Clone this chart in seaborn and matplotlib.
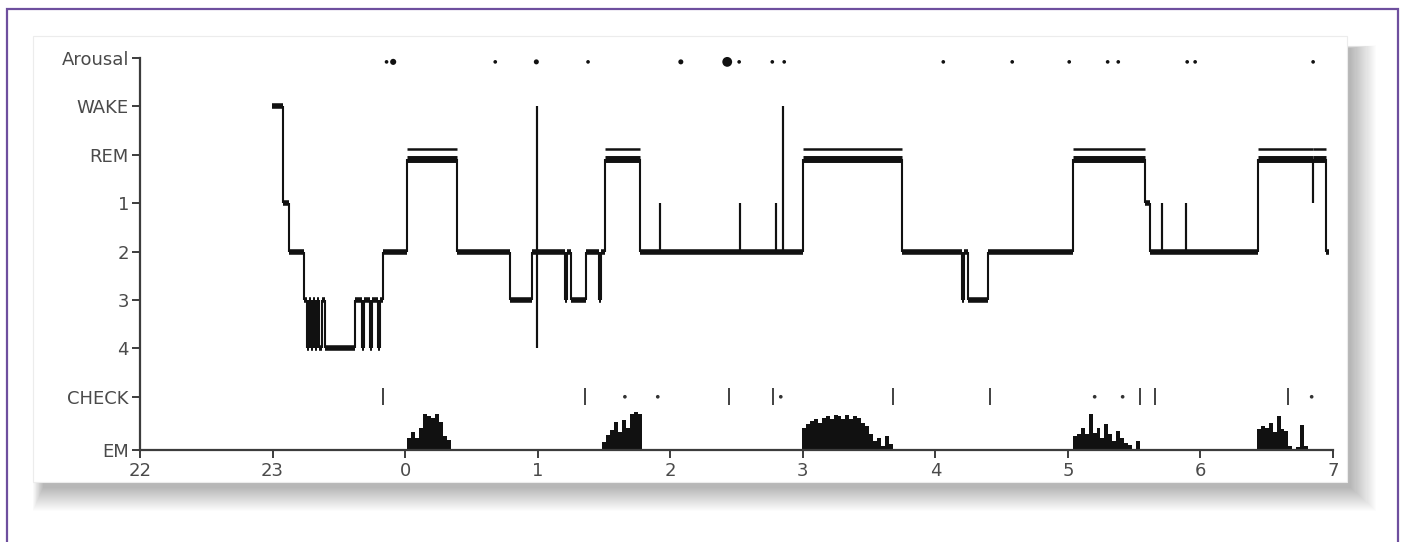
import matplotlib
matplotlib.use('Agg')
import numpy as np
import matplotlib.pyplot as plt
from matplotlib.patches import Rectangle
import seaborn as sns

# row labels (bottom -> top) and hour labels on the x axis
rows = ['EM', 'CHECK', '4', '3', '2', '1', 'REM', 'WAKE', 'Arousal']
hour_labels = ['22', '23', '0', '1', '2', '3', '4', '5', '6', '7']

# hypnogram change points, hours after 22:00, and the stage entered
stage_t = [0.995, 1.078, 1.124, 1.237, 1.259, 1.275, 1.290, 1.305, 1.320, 1.335,
           1.350, 1.373, 1.395, 1.621, 1.674, 1.689, 1.735, 1.750, 1.795, 1.810,
           1.833, 2.014, 2.391, 2.790, 2.956, 2.994, 2.994, 2.994, 3.205, 3.220,
           3.250, 3.363, 3.462, 3.477, 3.507, 3.771, 3.922, 3.922, 4.525, 4.525,
           4.796, 4.796, 4.849, 4.849, 5.000, 5.747, 6.199, 6.214, 6.244, 6.395,
           7.036, 7.579, 7.617, 7.707, 7.707, 7.888, 7.888, 8.431, 8.846, 8.846,
           8.944]
stage = ['WAKE', '1', '2', '3', '4', '3', '4', '3', '4', '3',
         '4', '3', '4', '3', '4', '3', '4', '3', '4', '3',
         '2', 'REM', '2', '3', '2', 'WAKE', '4', '2', '3', '2',
         '3', '2', '3', '2', 'REM', '2', '1', '2', '1', '2',
         '1', '2', 'WAKE', '2', 'REM', '2', '3', '2', '3', '2',
         'REM', '1', '2', '1', '2', '1', '2', 'REM', '1', 'REM',
         '2']
rec_end = 8.967

# arousals (time, duration in s)
arousal_t = [1.86, 1.91, 2.68, 2.99, 3.38, 4.08, 4.43, 4.52, 4.77, 4.86,
             6.06, 6.58, 7.01, 7.30, 7.38, 7.90, 7.96, 8.85]
arousal_sec = [10, 20, 10, 15, 10, 15, 45, 10, 10, 10,
               10, 10, 10, 10, 10, 10, 10, 10]

# check marks: long ticks and short dots
check_t = [1.833, 3.356, 4.442, 4.774, 5.679, 6.410, 7.541, 7.655, 8.658]
check_dot_t = [3.658, 3.906, 4.834, 7.202, 7.413, 8.839]

# eye movement bursts: start time and amplitude per 0.03 h bin
em_start = [2.014, 3.484, 4.992, 7.036, 8.424]
em_1 = [12, 18, 12, 22, 36, 34, 32, 36, 28, 14, 10]
em_2 = [8, 15, 20, 28, 18, 30, 22, 36, 38, 36]
em_3 = [22, 26, 29, 31, 27, 32, 34, 31, 35, 34, 31, 35, 31, 34, 32, 27,
        24, 16, 9, 12, 4, 14, 6]
em_4 = [14, 16, 22, 16, 36, 17, 22, 12, 26, 16, 9, 19, 12, 7, 5, 0, 9]
em_5 = [21, 24, 22, 27, 18, 34, 21, 19, 4, 0, 3, 25, 4]
em_bin = 0.03

sns.set_theme(style='white')
plt.rcParams['font.family'] = ['DejaVu Sans']

W, H = 1405, 542
fig = plt.figure(figsize=(W / 100, H / 100), dpi=100)
fig.patch.set_facecolor('white')


def fx(px):
    return px / W


def fy(py):
    return 1 - py / H


# soft card shadow (bottom/right), card, purple frame
for k in range(24):
    grow = k * 1.1
    fig.patches.append(Rectangle((fx(43 - grow * 0.4), fy(482 + 6 + grow * 0.9)),
                                 fx(1308 + grow * 1.4), (440 + grow * 1.0) / H,
                                 transform=fig.transFigure, facecolor='black',
                                 edgecolor='none', alpha=0.011, zorder=-20))
fig.patches.append(Rectangle((fx(33), fy(482)), fx(1314), 446 / H,
                             transform=fig.transFigure, facecolor='white',
                             edgecolor='#ececec', linewidth=0.8, zorder=-10))
fig.patches.append(Rectangle((fx(7), -0.05), fx(1391), fy(9) + 0.05,
                             transform=fig.transFigure, facecolor='none',
                             edgecolor='#6e4f9e', linewidth=1.6, zorder=-5))

ax = fig.add_axes([fx(140), fy(450), fx(1333 - 140), (450 - 58) / H])
ax.patch.set_visible(False)

ypos = dict(zip(rows, [0, 1.1, 2.1, 3.1, 4.1, 5.1, 6.1, 7.1, 8.1]))
ink = '#111111'


def level(s):
    return ypos[s] - 0.08 if s == 'REM' else ypos[s]


# hypnogram: thick horizontal runs, thin transitions
ends = stage_t[1:] + [rec_end]
for t0, t1, s in zip(stage_t, ends, stage):
    if t1 > t0:
        ax.hlines(level(s), t0, t1, color=ink, linewidth=5.0 if s == 'REM' else 4.0,
                  capstyle='butt')
        if s == 'REM':
            ax.hlines(ypos[s] + 0.11, t0, t1, color=ink, linewidth=1.8)
for i in range(1, len(stage)):
    ax.vlines(stage_t[i], level(stage[i - 1]), level(stage[i]), color=ink,
              linewidth=1.5)

# arousal marks
sns.scatterplot(x=arousal_t, y=[ypos['Arousal'] - 0.08] * len(arousal_t),
                size=arousal_sec, sizes=(7, 50), color=ink, marker='o',
                edgecolor='none', legend=False, ax=ax, clip_on=False)

# check marks
ax.vlines(check_t, ypos['CHECK'] - 0.18, ypos['CHECK'] + 0.18, color='#333333',
          linewidth=1.3)
sns.scatterplot(x=check_dot_t, y=[ypos['CHECK']] * len(check_dot_t), s=7,
                color='#333333', edgecolor='none', legend=False, ax=ax)

# eye movements
for t0, vals in zip(em_start, [em_1, em_2, em_3, em_4, em_5]):
    xs = t0 + em_bin * np.arange(len(vals))
    ax.bar(xs, np.array(vals) / 48.4, width=em_bin, align='edge', color=ink,
           linewidth=0)

ax.set_xlim(0, 9)
ax.set_ylim(0, 8.1)
ax.set_xticks(range(len(hour_labels)))
ax.set_xticklabels(hour_labels)
ax.set_yticks([ypos[r] for r in rows])
ax.set_yticklabels(rows)

sns.despine(ax=ax)
for side in ['left', 'bottom']:
    ax.spines[side].set_color('#3c3c3c')
    ax.spines[side].set_linewidth(1.6)
ax.tick_params(axis='both', direction='out', length=6, width=1.4,
               color='#3c3c3c', labelcolor='#4a4a4a', labelsize=13,
               left=True, bottom=True)
ax.tick_params(axis='x', pad=3)
ax.tick_params(axis='y', pad=2)

fig.savefig('out.png', dpi=100, facecolor='white')
